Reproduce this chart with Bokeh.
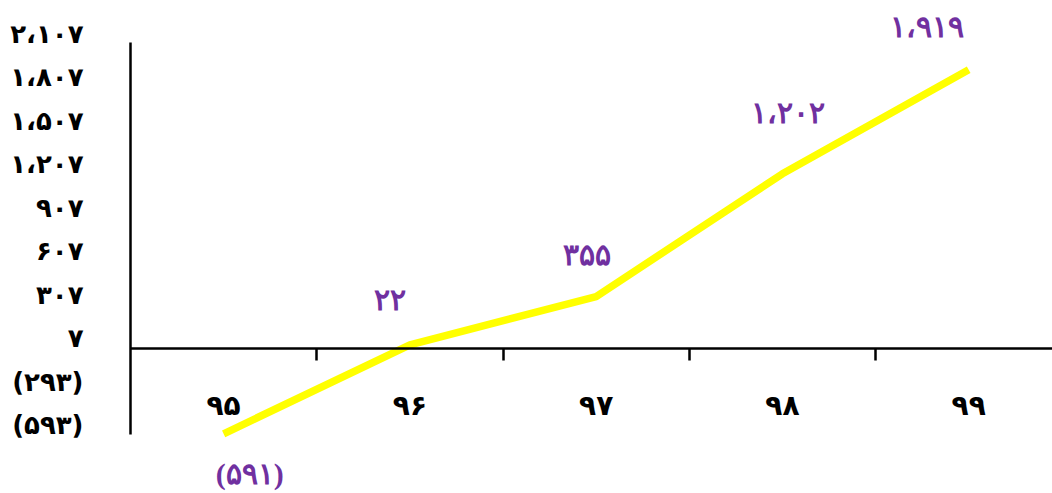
import numpy as np
from bokeh.plotting import figure
from bokeh.models import Range1d, FixedTicker, LinearAxis, ColumnDataSource, LabelSet
from bokeh.embed import file_html
from bokeh.resources import INLINE

# ---- data ----
years = ["۹۵", "۹۶", "۹۷", "۹۸", "۹۹"]
values = [-591, 22, 355, 1202, 1919]
value_labels = ["(۵۹۱)", "۲۲", "۳۵۵", "۱،۲۰۲", "۱،۹۱۹"]
y_ticks = [-593, -293, 7, 307, 607, 907, 1207, 1507, 1807, 2107]
y_tick_labels = ["(۵۹۳)", "(۲۹۳)", "۷", "۳۰۷", "۶۰۷", "۹۰۷",
                 "۱،۲۰۷", "۱،۵۰۷", "۱،۸۰۷", "۲،۱۰۷"]

# label offsets (screen px) for the data labels
label_dx = [26, -20, -9, 6, -42]
label_dy = [-40, 45, 42, 61, 43]

FONT = "DejaVu Sans"
PURPLE = "#7030A0"

Y0, Y1 = -1003, 2397
LBL_SHIFT = 60  # tick labels sit slightly above their value

xs = list(np.arange(1, len(years) + 1))
src = ColumnDataSource(dict(x=xs, y=values, lbl=value_labels,
                            dx=label_dx, dy=label_dy))

p = figure(width=1052, height=493,
           x_range=Range1d(0.5, 5.45), y_range=Range1d(Y0, Y1),
           output_backend="svg", toolbar_location=None,
           x_axis_location=None, y_axis_location=None,
           min_border_left=130, min_border_right=0,
           min_border_top=0, min_border_bottom=0)
p.extra_y_ranges = {"ylbl": Range1d(Y0 - LBL_SHIFT, Y1 - LBL_SHIFT)}
p.outline_line_color = None
p.background_fill_color = "white"
p.border_fill_color = "white"
p.xgrid.visible = False
p.ygrid.visible = False

# y axis (labels raised slightly, line spans first..last tick value)
yl = LinearAxis(y_range_name="ylbl",
                bounds=(y_ticks[0] - LBL_SHIFT, y_ticks[-1] - LBL_SHIFT),
                ticker=FixedTicker(ticks=y_ticks),
                major_label_overrides={t: l for t, l in zip(y_ticks, y_tick_labels)},
                axis_line_color="black", axis_line_width=2.5,
                major_tick_line_color=None,
                minor_tick_line_color=None,
                major_label_text_font=FONT,
                major_label_text_font_style="bold",
                major_label_text_font_size="26px",
                major_label_text_color="black",
                major_label_standoff=41)
p.add_layout(yl, "left")

# x axis line at zero with boundary ticks
bounds_ticks = [x + 0.5 for x in xs[:-1]]
xa = LinearAxis(fixed_location=0, ticker=FixedTicker(ticks=bounds_ticks),
                major_label_text_color=None,
                major_tick_in=0, major_tick_out=12,
                major_tick_line_width=2.5, major_tick_line_color="black",
                minor_tick_line_color=None,
                axis_line_width=2.5, axis_line_color="black")
p.add_layout(xa, "below")

# category labels
xl = LinearAxis(fixed_location=0, ticker=FixedTicker(ticks=xs),
                major_label_overrides={int(x): y for x, y in zip(xs, years)},
                axis_line_color=None, major_tick_line_color=None,
                minor_tick_line_color=None,
                major_label_standoff=35,
                major_label_text_font=FONT,
                major_label_text_font_style="bold",
                major_label_text_font_size="28px",
                major_label_text_color="black")
p.add_layout(xl, "below")

p.line("x", "y", source=src, line_color="#FFFF00", line_width=7.5,
       line_join="round")

labels = LabelSet(x="x", y="y", text="lbl", source=src,
                  x_offset="dx", y_offset="dy",
                  text_align="center", text_baseline="middle",
                  text_font=FONT, text_font_style="bold",
                  text_font_size="30px", text_color=PURPLE)
p.add_layout(labels)

open("out.html", "w").write(file_html(p, INLINE))
